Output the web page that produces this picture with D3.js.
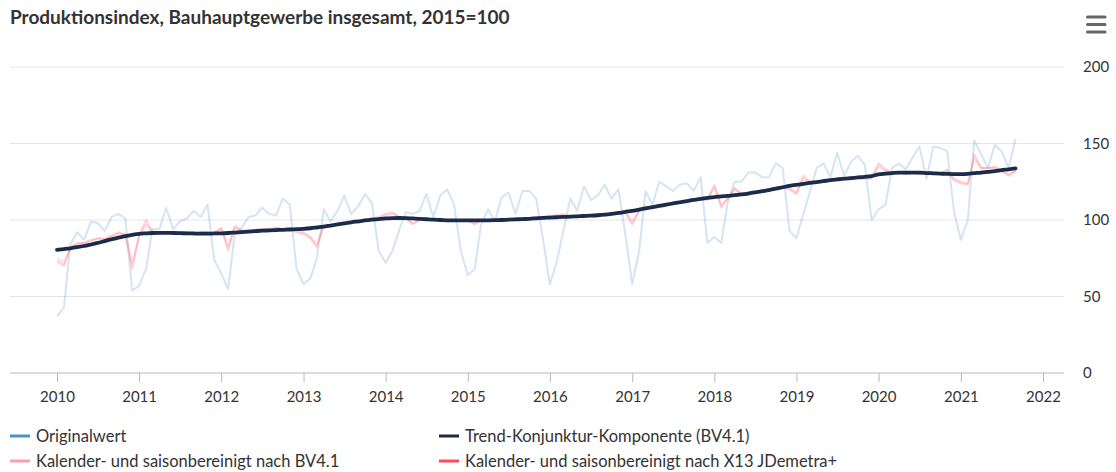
<!DOCTYPE html>
<html>
<head>
<meta charset="utf-8">
<script src="https://cdn.jsdelivr.net/npm/d3@7"></script>
<style>
  body { margin: 0; background: #fff; }
  svg { display: block; font-family: Lato, "Noto Sans", sans-serif; }
</style>
</head>
<body>
<div id="chart"></div>
<script>
// chart size
const w = 1116;
const h = 472;

// ----- data (monthly, Jan 2010 - Sep 2021) -----
const startYear = 2010;

const originalwert = [
  37, 43, 84, 92, 87, 99, 98, 93, 102, 104, 101, 54,
  57, 68, 94, 94, 108, 94, 99, 101, 106, 102, 110, 74,
  65, 55, 91, 95, 102, 103, 108, 104, 103, 114, 110, 68,
  58, 62, 75, 107, 99, 106, 116, 104, 109, 117, 111, 80,
  72, 80, 93, 105, 104, 106, 117, 102, 116, 120, 110, 80,
  64, 68, 97, 107, 99, 115, 118, 104, 119, 119, 114, 88,
  58, 73, 93, 114, 106, 122, 113, 116, 123, 114, 120, 91,
  58, 80, 119, 110, 125, 122, 119, 123, 124, 119, 128, 85,
  89, 85, 111, 125, 125, 131, 131, 128, 128, 137, 134, 93,
  88, 104, 118, 134, 137, 128, 144, 129, 138, 142, 136, 100,
  107, 110, 134, 137, 133, 141, 148, 127, 148, 147, 145, 106,
  87, 100, 152, 143, 134, 149, 145, 134, 153
];

const trendBV41 = [
  80.5, 81, 81.5, 82.2, 83, 84, 85, 86.2, 87.4, 88.5, 89.5, 90.3,
  91, 91.3, 91.5, 91.6, 91.6, 91.5, 91.4, 91.3, 91.2, 91.1, 91.1, 91.2,
  91.3, 91.5, 91.8, 92.1, 92.4, 92.7, 93, 93.2, 93.4, 93.6, 93.8, 94,
  94.2, 94.6, 95.1, 95.7, 96.4, 97.1, 97.8, 98.5, 99.1, 99.7, 100.2, 100.6,
  101, 101.2, 101.3, 101.2, 101, 100.8, 100.5, 100.2, 100, 99.8, 99.7, 99.7,
  99.7, 99.7, 99.7, 99.8, 99.9, 100, 100.2, 100.4, 100.6, 100.8, 101.1, 101.4,
  101.6, 101.8, 102, 102.2, 102.4, 102.6, 102.8, 103.1, 103.5, 104, 104.6, 105.3,
  106, 106.8, 107.6, 108.4, 109.2, 110, 110.8, 111.6, 112.4, 113.1, 113.8, 114.4,
  115, 115.4, 115.8, 116.2, 116.7, 117.3, 118, 118.8, 119.6, 120.5, 121.4, 122.3,
  123, 123.6, 124.2, 124.8, 125.4, 126, 126.5, 127, 127.4, 127.8, 128.2, 128.7,
  129.8, 130.3, 130.7, 131, 131, 131, 130.9, 130.7, 130.5, 130.3, 130.1, 130,
  130, 130.2, 130.6, 131, 131.5, 132, 132.6, 133.1, 133.7
];

const saisonBV41 = [
  73, 70, 82, 85, 85, 87, 88, 87, 90, 92, 90, 68,
  90, 100, 92, 92, 92, 91, 91, 92, 90, 92, 92, 91,
  95, 80, 96, 93, 93, 93, 94, 94, 95, 94, 94, 92,
  91, 88, 82, 97, 96, 97, 98, 98, 99, 100, 101, 102,
  104, 105, 102, 101, 97, 100, 101, 100, 100, 99, 100, 100,
  100, 97, 100, 100, 100, 100, 100, 101, 100, 101, 102, 101,
  103, 103, 104, 102, 102, 103, 103, 104, 103, 104, 105, 105,
  97, 106, 109, 108, 110, 110, 111, 111, 112, 113, 114, 113,
  123, 108, 114, 121, 117, 118, 118, 119, 120, 121, 121, 120,
  117, 129, 125, 125, 126, 126, 127, 127, 128, 128, 127, 127,
  137, 133, 131, 131, 130, 131, 130, 131, 131, 130, 133, 126,
  124, 123, 143, 134, 134, 135, 132, 129, 132
];

const saisonX13 = [
  75, 72, 81, 84, 85, 86, 88, 88, 89, 91, 91, 72,
  89, 97, 92, 91, 92, 91, 92, 91, 91, 92, 92, 92,
  94, 83, 95, 93, 93, 94, 94, 93, 95, 94, 95, 93,
  92, 89, 84, 96, 96, 97, 98, 99, 99, 100, 101, 101,
  103, 104, 102, 101, 98, 100, 101, 100, 100, 100, 100, 100,
  100, 98, 100, 100, 100, 101, 100, 101, 100, 101, 101, 101,
  102, 103, 103, 102, 103, 103, 103, 104, 104, 104, 105, 106,
  99, 106, 108, 108, 110, 110, 111, 112, 112, 113, 114, 114,
  121, 110, 114, 120, 117, 118, 118, 119, 120, 121, 121, 121,
  118, 127, 125, 125, 126, 126, 127, 127, 128, 128, 128, 128,
  135, 132, 131, 131, 130, 131, 131, 131, 131, 130, 132, 127,
  125, 124, 140, 134, 134, 134, 132, 130, 132
];

const yTicks = [0, 50, 100, 150, 200];
const xTickYears = d3.range(2010, 2023);

const seriesNames = [
  "Originalwert",
  "Trend-Konjunktur-Komponente (BV4.1)",
  "Kalender- und saisonbereinigt nach BV4.1",
  "Kalender- und saisonbereinigt nach X13 JDemetra+"
];

// ----- layout -----
const plotLeft = 10;
const plotRight = 1064;

const x = d3
  .scaleTime()
  .domain([new Date(2010, 0, 1), new Date(2022, 0, 1)])
  .range([57, 1043]);

const y = d3.scaleLinear().domain([0, 200]).range([373, 67]);

const monthDate = (i) => new Date(startYear, i, 1);

const svg = d3
  .select("#chart")
  .append("svg")
  .attr("width", w)
  .attr("height", h);

// title
svg
  .append("text")
  .attr("x", 10)
  .attr("y", 24)
  .attr("font-size", 19)
  .attr("font-weight", "bold")
  .attr("fill", "#333")
  .text("Produktionsindex, Bauhauptgewerbe insgesamt, 2015=100");

// menu icon
svg
  .append("g")
  .selectAll("line")
  .data([17, 24.5, 32])
  .enter()
  .append("line")
  .attr("x1", 1087.5)
  .attr("x2", 1105)
  .attr("y1", (d) => d)
  .attr("y2", (d) => d)
  .attr("stroke", "#666")
  .attr("stroke-width", 3)
  .attr("stroke-linecap", "round");

// grid lines
svg
  .append("g")
  .selectAll("line")
  .data(yTicks.filter((d) => d > 0))
  .enter()
  .append("line")
  .attr("x1", plotLeft)
  .attr("x2", plotRight)
  .attr("y1", (d) => y(d))
  .attr("y2", (d) => y(d))
  .attr("stroke", "#e6e6e6")
  .attr("stroke-width", 1);

// y labels (right side)
svg
  .append("g")
  .selectAll("text")
  .data(yTicks)
  .enter()
  .append("text")
  .attr("x", 1083)
  .attr("y", (d) => y(d))
  .attr("dy", "0.35em")
  .attr("font-size", 15)
  .attr("fill", "#333")
  .text((d) => d);

// x axis
const xAxis = d3
  .axisBottom(x)
  .tickValues(xTickYears.map((yr) => new Date(yr, 0, 1)))
  .tickFormat(d3.timeFormat("%Y"))
  .tickSize(9)
  .tickSizeOuter(0);

const gx = svg
  .append("g")
  .attr("transform", `translate(0,${y(0)})`)
  .call(xAxis);

gx.select(".domain").remove();
gx.insert("line", ":first-child")
  .attr("x1", plotLeft)
  .attr("x2", plotRight)
  .attr("stroke", "#b8b8b8")
  .attr("stroke-width", 1);
gx.selectAll(".tick line").attr("stroke", "#b8b8b8");
gx.selectAll(".tick text")
  .attr("y", 18)
  .attr("font-size", 15)
  .attr("font-family", "Lato, 'Noto Sans', sans-serif")
  .attr("fill", "#333");

// lines
const line = d3
  .line()
  .x((d, i) => x(monthDate(i)))
  .y((d) => y(d));

svg
  .append("path")
  .datum(originalwert)
  .attr("d", line)
  .attr("fill", "none")
  .attr("stroke", "#3d85d1")
  .attr("stroke-opacity", 0.22)
  .attr("stroke-width", 2)
  .attr("stroke-linejoin", "round");

svg
  .append("path")
  .datum(saisonBV41)
  .attr("d", line)
  .attr("fill", "none")
  .attr("stroke", "#ff8f99")
  .attr("stroke-opacity", 0.4)
  .attr("stroke-width", 2)
  .attr("stroke-linejoin", "round");

svg
  .append("path")
  .datum(saisonX13)
  .attr("d", line)
  .attr("fill", "none")
  .attr("stroke", "#ff3c4e")
  .attr("stroke-opacity", 0.18)
  .attr("stroke-width", 2)
  .attr("stroke-linejoin", "round");

svg
  .append("path")
  .datum(trendBV41)
  .attr("d", line.curve(d3.curveMonotoneX))
  .attr("fill", "none")
  .attr("stroke", "#1b2b4a")
  .attr("stroke-width", 3.8)
  .attr("stroke-linecap", "round")
  .attr("stroke-linejoin", "round");

// legend
const legendItems = [
  { name: seriesNames[0], color: "#4a8fd8", x: 10, y: 436 },
  { name: seriesNames[1], color: "#1b2b4a", x: 439, y: 436 },
  { name: seriesNames[2], color: "#ff9ea6", x: 10, y: 461 },
  { name: seriesNames[3], color: "#ff4a58", x: 439, y: 461 }
];

const legend = svg
  .append("g")
  .selectAll("g")
  .data(legendItems)
  .enter()
  .append("g")
  .attr("transform", (d) => `translate(${d.x},${d.y})`);

legend
  .append("line")
  .attr("x1", 0)
  .attr("x2", 20)
  .attr("stroke", (d) => d.color)
  .attr("stroke-width", 3);

legend
  .append("text")
  .attr("x", 26)
  .attr("dy", "0.35em")
  .attr("font-size", 16.5)
  .attr("fill", "#333")
  .text((d) => d.name);
</script>
</body>
</html>
